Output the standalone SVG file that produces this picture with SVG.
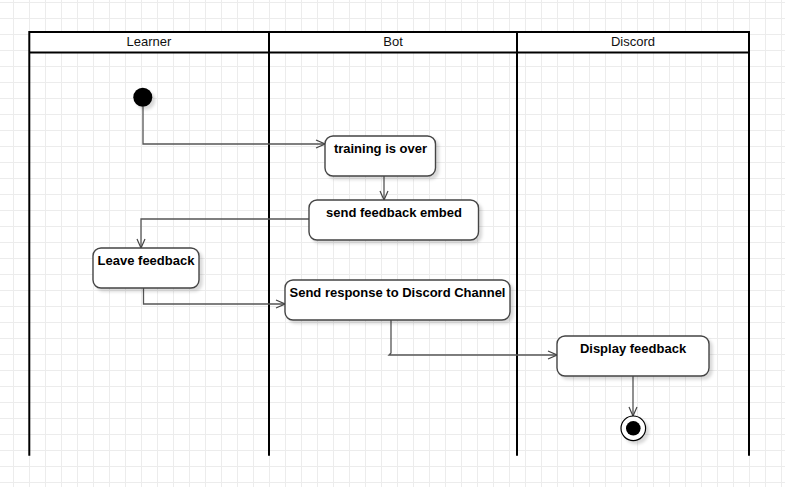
<svg xmlns="http://www.w3.org/2000/svg" width="785" height="487" viewBox="0 0 785 487">
<defs>
<pattern id="grid" x="13" y="2" width="16" height="16" patternUnits="userSpaceOnUse">
<path d="M0.5 0V16M0 0.5H16" fill="none" stroke="#ececec" stroke-width="1"/>
</pattern>
<filter id="sh" x="-20%" y="-20%" width="140%" height="150%">
<feDropShadow dx="3" dy="3" stdDeviation="1.5" flood-color="#000" flood-opacity="0.15"/>
</filter>
<marker id="arr" viewBox="0 0 10 10" refX="10" refY="5" markerWidth="10" markerHeight="10" markerUnits="userSpaceOnUse" orient="auto">
<path d="M1 1L10 5L1 9" fill="none" stroke="#444" stroke-width="1.2"/>
</marker>
<style>
.lane{fill:none;stroke:#000;stroke-width:2}
.lt{font-family:"Liberation Sans",Arial,sans-serif;font-size:13px;fill:#111;text-anchor:middle}
.box{fill:#fff;stroke:#444;stroke-width:1.4;filter:url(#sh)}
.bt{font-family:"Liberation Sans",Arial,sans-serif;font-size:13px;font-weight:bold;fill:#000;text-anchor:middle}
.c{fill:none;stroke:#555;stroke-width:1.3;marker-end:url(#arr)}
</style>
</defs>
<rect width="785" height="487" fill="#fff"/>
<rect width="785" height="487" fill="url(#grid)"/>
<g id="pool">
<rect x="29.3" y="32" width="719.7" height="20.5" fill="#fff" stroke="none"/>
<path class="lane" d="M29.3 455.7V32H749V455.7M29.3 52.5H749M269 32V455.7M517 32V455.7"/>
<text class="lt" x="149" y="46">Learner</text>
<text class="lt" x="393" y="46">Bot</text>
<text class="lt" x="633" y="46">Discord</text>
</g>
<g id="connectors">
<path class="c" d="M143 106.5V144H325"/>
<path class="c" d="M384 176V200"/>
<path class="c" d="M309 219H141V248"/>
<path class="c" d="M143.5 288V304H285"/>
<path class="c" d="M391 320V353L389 355H557"/>
<path class="c" d="M633 376V416"/>
</g>
<g id="start">
<circle cx="142.8" cy="97.3" r="9.5" fill="#000" filter="url(#sh)"/>
</g>
<g id="training">
<rect class="box" x="325" y="136" width="110.5" height="40" rx="8"/>
<text class="bt" x="380.5" y="153">training is over</text>
</g>
<g id="sendEmbed">
<rect class="box" x="309" y="200" width="169.5" height="40" rx="8"/>
<text class="bt" x="394" y="217">send feedback embed</text>
</g>
<g id="leave">
<rect class="box" x="93" y="248" width="106" height="40" rx="8"/>
<text class="bt" x="146" y="265">Leave feedback</text>
</g>
<g id="sendResponse">
<rect class="box" x="285" y="280" width="225" height="40" rx="8"/>
<text class="bt" x="397.5" y="297">Send response to Discord Channel</text>
</g>
<g id="display">
<rect class="box" x="557" y="336" width="152" height="40" rx="8"/>
<text class="bt" x="633" y="353">Display feedback</text>
</g>
<g id="end">
<circle cx="633.3" cy="428.3" r="12.3" fill="#fff" stroke="#000" stroke-width="1.2" filter="url(#sh)"/>
<circle cx="633.3" cy="428.3" r="7.3" fill="#000"/>
</g>
</svg>
